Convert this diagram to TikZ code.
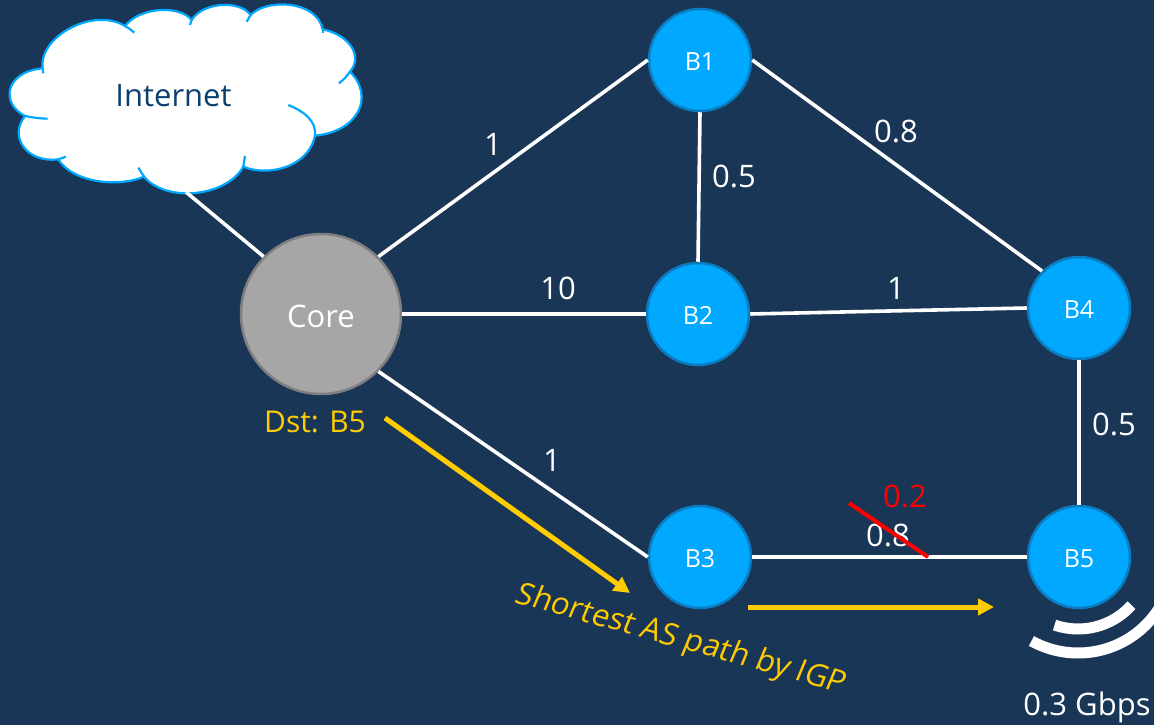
\documentclass[tikz,border=0pt]{standalone}
\usepackage{fontspec}
\setmainfont{Open Sans}
\newfontfamily\slantfont[FakeSlant=0.12]{Open Sans}
\usetikzlibrary{arrows.meta}
\definecolor{bgc}{HTML}{1A3657}
\definecolor{nodec}{HTML}{00A8FF}
\definecolor{noded}{HTML}{0B7CBF}
\definecolor{coref}{HTML}{A6A6A6}
\definecolor{cored}{HTML}{7F7F7F}
\definecolor{goldc}{HTML}{FFCC00}
\definecolor{inetc}{HTML}{0B3F6F}
\definecolor{redc}{HTML}{FF0000}
\tikzset{
  router/.style={circle,fill=nodec,draw=noded,line width=2.5pt,minimum size=102pt,inner sep=0pt,text=white,text height=20.8pt,text depth=0pt,font=\fontsize{25pt}{25pt}\selectfont},
  corenode/.style={circle,fill=coref,draw=cored,line width=2.5pt,minimum size=160pt,inner sep=0pt,text=white,text height=26pt,text depth=0pt,font=\fontsize{31pt}{31pt}\selectfont},
  link/.style={white,line width=3.6pt},
  weight/.style={text=white,font=\fontsize{31pt}{31pt}\selectfont,inner sep=0pt},
  goldtext/.style={text=goldc,font=\fontsize{30pt}{30pt}\selectfont,inner sep=0pt},
  goldarrow/.style={goldc,line width=5pt,-{Triangle[length=16pt,width=16pt]}},
  cloudline/.style={draw=nodec,line width=2.2pt},
  band/.style={white,line width=11pt}
}
\begin{document}
\begin{tikzpicture}[x=1pt,y=-1pt]
\useasboundingbox (0,0) rectangle (1154,725);
\fill[bgc] (0,0) rectangle (1154,725);
% cloud
\begin{scope}[x=0.3333pt,y=-0.3333pt]
\path[fill=white,cloudline]
 (128,205) .. controls (115,110) and (280,20) .. (375,78)
 .. controls (420,20) and (540,15) .. (575,60)
 .. controls (610,5) and (720,0) .. (752,45)
 .. controls (800,-5) and (950,0) .. (968,88)
 .. controls (1050,105) and (1090,170) .. (1050,215)
 .. controls (1125,290) and (1075,395) .. (945,407)
 .. controls (925,505) and (800,530) .. (730,500)
 .. controls (680,590) and (500,610) .. (432,530)
 .. controls (350,565) and (215,545) .. (175,478)
 .. controls (80,490) and (25,410) .. (75,348)
 .. controls (0,310) and (15,215) .. (128,205) -- cycle;
\draw[cloudline] (375,78) .. controls (385,84) and (395,90) .. (403,98);
\draw[cloudline] (575,60) -- (570,75);
\draw[cloudline] (752,45) -- (740,65);
\draw[cloudline] (968,88) -- (968,100);
\draw[cloudline] (1050,215) .. controls (1040,230) and (1030,240) .. (1017,250);
\draw[cloudline] (945,407) .. controls (950,365) and (915,335) .. (865,315);
\draw[cloudline] (730,500) -- (735,468);
\draw[cloudline] (432,530) -- (415,503);
\draw[cloudline] (175,478) -- (198,470);
\draw[cloudline] (75,348) .. controls (95,352) and (120,356) .. (143,356);
\draw[cloudline] (128,205) -- (130,220);
\end{scope}
\node[inner sep=0pt,text=inetc,font=\fontsize{31pt}{31pt}\selectfont] (inet) at (173.5,96) {Internet};
\coordinate (cloudfoot) at (186,192);
% nodes
\node[corenode] (core) at (321,314) {Core};
\node[router] (b1) at (700,60) {B1};
\node[router] (b2) at (698,314) {B2};
\node[router] (b3) at (700,557) {B3};
\node[router] (b4) at (1079,308) {B4};
\node[router] (b5) at (1079,557) {B5};
% links
\draw[link] (cloudfoot) -- (core.135);
\draw[link] (core.45) -- (b1.west);
\draw[link] (core.east) -- (b2.west);
\draw[link] (core.-45) -- (b3.west);
\draw[link] (b1.south) -- (b2.north);
\draw[link] (b1.east) -- (b4.135);
\draw[link] (b2.east) -- (b4.west);
\draw[link] (b4.south) -- (b5.north);
\draw[link] (b3.east) -- (b5.west);
% weights
\node[weight] (w1) at (493,144) {1};
\node[weight] (w2) at (734,176) {0.5};
\node[weight] (w3) at (896,131) {0.8};
\node[weight] (w4) at (558,288) {10};
\node[weight] (w5) at (896,288) {1};
\node[weight] (w6) at (552,460) {1};
\node[weight] (w7) at (1114,424) {0.5};
\node[weight] (w8) at (888,535) {0.8};
\node[inner sep=0pt,text=redc,font=\fontsize{31pt}{31pt}\selectfont] (w9) at (905,496) {0.2};
\coordinate (xa) at (849,503);
\coordinate (xb) at (928,557);
\draw[redc,line width=4pt] (xa) -- (xb);
% gold
\node[goldtext] (dst) at (315,422) {Dst: B5};
\coordinate (a1s) at (385,418);
\coordinate (a1e) at (630,593);
\coordinate (a2s) at (748,607);
\coordinate (a2e) at (994,607);
\draw[goldarrow] (a1s) -- (a1e);
\draw[goldarrow] (a2s) -- (a2e);
\node[goldtext,font=\fontsize{31pt}{31pt}\selectfont\slantfont,rotate=-15.5] (sp) at (680,640) {Shortest AS path by IGP};
% signal
\coordinate (sig) at (1078,557);
\begin{scope}
\clip (0,0) rectangle (1154,725);
\draw[band] (sig) ++(251:72pt) arc[start angle=251,end angle=318,radius=72pt];
\draw[band] (sig) ++(241:96pt) arc[start angle=241,end angle=335,radius=96pt];
\end{scope}
\node[weight] (rate) at (1087,707) {0.3 Gbps};
\end{tikzpicture}
\end{document}
